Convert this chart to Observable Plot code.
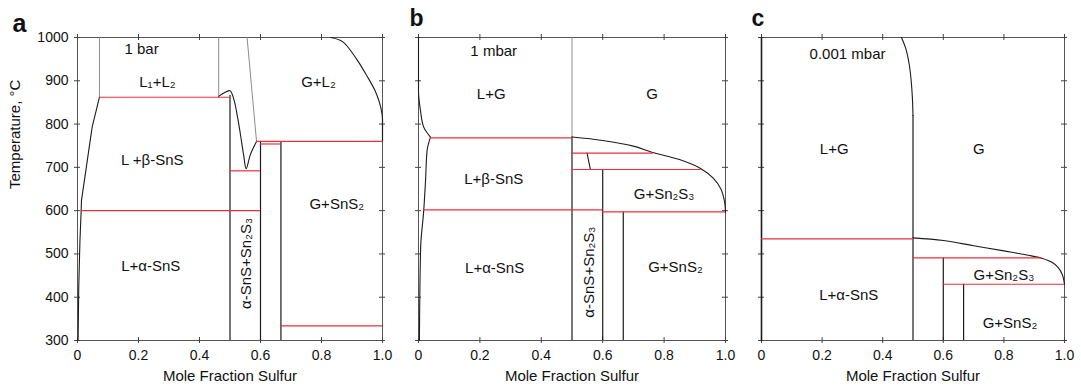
<!DOCTYPE html>
<html><head><meta charset="utf-8">
<script src="https://cdn.jsdelivr.net/npm/d3@7"></script>
<script src="https://cdn.jsdelivr.net/npm/@observablehq/plot@0.6"></script>
<style>
body{margin:0;background:#fff}
#wrap{position:relative;width:1081px;height:391px;overflow:hidden}
#wrap svg{position:absolute;top:0}
</style>
</head><body><div id="wrap"></div>
<script>
// ---- shared axis values ----
const xTicks = [0, 0.2, 0.4, 0.6, 0.8, 1.0];
const yTicks = [300, 400, 500, 600, 700, 800, 900, 1000];
const xLabel = "Mole Fraction Sulfur";
const yLabel = "Temperature, °C";

// ---- panel a: 1 bar ----
const aLiquidusLeft = [[0.002,300],[0.004,420],[0.008,530],[0.012,600],[0.013,623],[0.048,793],[0.072,862]];
const aGrayLines = [
  [[0.072,862],[0.072,1000]],
  [[0.463,864],[0.463,1000]],
  [[0.556,1000],[0.587,760]]
];
const aL2Curve = [[0.463,864],[0.48,872],[0.5,877],[0.513,856],[0.525,815],[0.534,777],[0.545,727],[0.553,697],[0.567,730],[0.587,760]];
const aGasCurve = [[0.83,1000],[0.87,990],[0.915,950],[0.95,910],[0.975,878],[0.99,850],[0.998,825],[1,810]];
const aVerticals = [{x:0.5,t1:300,t2:866},{x:0.6,t1:300,t2:760},{x:0.667,t1:300,t2:760},{x:1,t1:760,t2:810}];
const aIsotherms = [
  {x1:0.072,x2:0.5,T:862},{x1:0.5,x2:0.6,T:692},{x1:0.587,x2:1,T:760},
  {x1:0.6,x2:0.667,T:754},{x1:0.012,x2:0.6,T:600},{x1:0.667,x2:1,T:334}
];
const aLabels = [
  {x:0.21,T:972,text:"1 bar"},{x:0.262,T:896,text:"L₁+L₂"},{x:0.79,T:896,text:"G+L₂"},
  {x:0.245,T:716,text:"L +β-SnS"},{x:0.24,T:471,text:"L+α-SnS"},{x:0.85,T:616,text:"G+SnS₂"}
];
const aVertLabel = [{x:0.552,T:478,text:"α-SnS+Sn₂S₃"}];

// ---- panel b: 1 mbar ----
const bLeftTop = [[0,1000],[0,877],[0.0065,831],[0.017,793],[0.039,770]];
const bLiquidusLeft = [[0.039,770],[0.028,739],[0.023,670],[0.017,600],[0.007,515],[0.003,300]];
const bGrayLines = [[[0.5,770],[0.5,1000]]];
const bDewCurve = [[0.5,770],[0.6,762],[0.7,749],[0.76,735],[0.85,718],[0.92,697],[0.96,675],[0.985,650],[0.997,620],[1,597]];
const bSlant = [[0.549,733],[0.56,695]];
const bVerticals = [{x:0.5,t1:300,t2:770},{x:0.6,t1:300,t2:695},{x:0.667,t1:300,t2:597}];
const bIsotherms = [
  {x1:0.039,x2:0.5,T:768},{x1:0.5,x2:0.765,T:733},{x1:0.5,x2:0.92,T:695},
  {x1:0.017,x2:0.6,T:602},{x1:0.6,x2:1,T:597}
];
const bLabels = [
  {x:0.245,T:968,text:"1 mbar"},{x:0.237,T:870,text:"L+G"},{x:0.761,T:870,text:"G"},
  {x:0.245,T:673,text:"L+β-SnS"},{x:0.80,T:639,text:"G+Sn₂S₃"},
  {x:0.248,T:466,text:"L+α-SnS"},{x:0.837,T:470,text:"G+SnS₂"}
];
const bVertLabel = [{x:0.555,T:458,text:"α-SnS+Sn₂S₃"}];

// ---- panel c: 0.001 mbar ----
const cLeftEdge = [[0,300],[0,1000]];
const cTopCurve = [[0.462,1000],[0.476,975],[0.487,940],[0.494,900],[0.498,860],[0.5,820]];
const cDewCurve = [[0.5,537],[0.6,531],[0.7,519],[0.8,507],[0.88,497],[0.925,490],[0.96,480],[0.98,468],[0.993,452],[1,430]];
const cVerticals = [{x:0.5,t1:300,t2:820},{x:0.6,t1:300,t2:491},{x:0.667,t1:300,t2:430}];
const cIsotherms = [{x1:0,x2:0.5,T:535},{x1:0.5,x2:0.925,T:491},{x1:0.6,x2:1,T:430}];
const cLabels = [
  {x:0.284,T:962,text:"0.001 mbar"},{x:0.24,T:743,text:"L+G"},{x:0.717,T:743,text:"G"},
  {x:0.80,T:450,text:"G+Sn₂S₃"},{x:0.288,T:404,text:"L+α-SnS"},{x:0.82,T:341,text:"G+SnS₂"}
];

// ---- styling ----
const FONT = "'Liberation Sans', Arial, Helvetica, sans-serif";
const RED = "#ec2f3c";
const BLACK = "#1c1c1c";
const GRAY = "#8c8c8c";

function panel(o) {
  const marks = [
    Plot.frame({stroke: "#555", strokeWidth: 1}),
    // crossing ticks on all four sides
    Plot.ruleX(xTicks, {x: d => d, y1: 300, y2: 300, insetTop: -3, insetBottom: -3, stroke: "#444"}),
    Plot.ruleX(xTicks, {x: d => d, y1: 1000, y2: 1000, insetTop: -3, insetBottom: -3, stroke: "#444"}),
    Plot.ruleY(yTicks, {y: d => d, x1: 0, x2: 0, insetLeft: -3, insetRight: -3, stroke: "#444"}),
    Plot.ruleY(yTicks, {y: d => d, x1: 1, x2: 1, insetLeft: -3, insetRight: -3, stroke: "#444"}),
    Plot.axisX({ticks: xTicks, tickSize: 0, tickPadding: 10, tickFormat: d => d === 0 ? "0" : d.toFixed(1), fontSize: 14, fontFamily: FONT, fill: "#111", label: null}),
    Plot.text([xLabel], {frameAnchor: "bottom", dy: 40, fontSize: 15, fontFamily: FONT, fill: "#111"}),
    Plot.text([o.letter], {frameAnchor: "top-left", dx: o.ldx, dy: o.ldy, lineAnchor: "bottom", textAnchor: "start", fontSize: o.lsize, fontWeight: "bold", fontFamily: FONT, fill: "#111"})
  ];
  if (o.yAxis) {
    marks.push(Plot.axisY({ticks: yTicks, tickSize: 0, tickPadding: 9, tickFormat: d => String(d), fontSize: 14, fontFamily: FONT, fill: "#111", label: null}));
    marks.push(Plot.text([yLabel], {frameAnchor: "left", dx: -62, rotate: -90, fontSize: 15, fontFamily: FONT, fill: "#111"}));
  }
  for (const g of (o.gray || [])) marks.push(Plot.line(g, {x: d => d[0], y: d => d[1], stroke: GRAY, strokeWidth: 1}));
  for (const c of (o.curves || [])) marks.push(Plot.line(c, {x: d => d[0], y: d => d[1], stroke: BLACK, strokeWidth: 1.1, curve: "catmull-rom"}));
  for (const c of (o.ycurves || [])) marks.push(Plot.line(c, {x: d => d[0], y: d => d[1], stroke: BLACK, strokeWidth: 1.1, curve: "monotone-y"}));
  for (const s of (o.straight || [])) marks.push(Plot.line(s, {x: d => d[0], y: d => d[1], stroke: BLACK, strokeWidth: o.edgeWidth || 1.1}));
  marks.push(Plot.ruleX(o.verticals, {x: "x", y1: "t1", y2: "t2", stroke: BLACK, strokeWidth: 1.2}));
  marks.push(Plot.ruleY(o.isotherms, {y: "T", x1: "x1", x2: "x2", stroke: RED, strokeWidth: 1.2}));
  marks.push(Plot.text(o.labels, {x: "x", y: "T", text: "text", fontSize: 15, fontFamily: FONT, fill: "#111"}));
  if (o.vlabels) marks.push(Plot.text(o.vlabels, {x: "x", y: "T", text: "text", rotate: -90, fontSize: 15, fontFamily: FONT, fill: "#111"}));
  const svg = Plot.plot({
    width: o.width, height: 391,
    marginLeft: o.ml, marginRight: o.mr, marginTop: 37, marginBottom: 51,
    x: {domain: [0, 1], axis: null},
    y: {domain: [300, 1000], axis: null},
    style: {fontFamily: FONT, background: "transparent", overflow: "visible"},
    marks
  });
  svg.style.left = o.left + "px";
  document.getElementById("wrap").appendChild(svg);
}

panel({letter: "a", ldx: -65, ldy: -6, lsize: 25, left: 0, width: 395, ml: 77, mr: 13, yAxis: true,
  gray: aGrayLines, curves: [aL2Curve, aGasCurve], straight: [aLiquidusLeft], verticals: aVerticals,
  isotherms: aIsotherms, labels: aLabels, vlabels: aVertLabel});
panel({letter: "b", ldx: -9, ldy: -12, lsize: 23, left: 405, width: 333, ml: 13, mr: 13,
  gray: bGrayLines, curves: [bDewCurve], ycurves: [bLeftTop, bLiquidusLeft], straight: [bSlant], verticals: bVerticals,
  isotherms: bIsotherms, labels: bLabels, vlabels: bVertLabel});
panel({letter: "c", ldx: -10, ldy: -12, lsize: 23, left: 748, width: 331, ml: 13, mr: 15,
  ycurves: [cTopCurve], curves: [cDewCurve], straight: [cLeftEdge], edgeWidth: 1.6, verticals: cVerticals,
  isotherms: cIsotherms, labels: cLabels});
</script>
</body></html>
